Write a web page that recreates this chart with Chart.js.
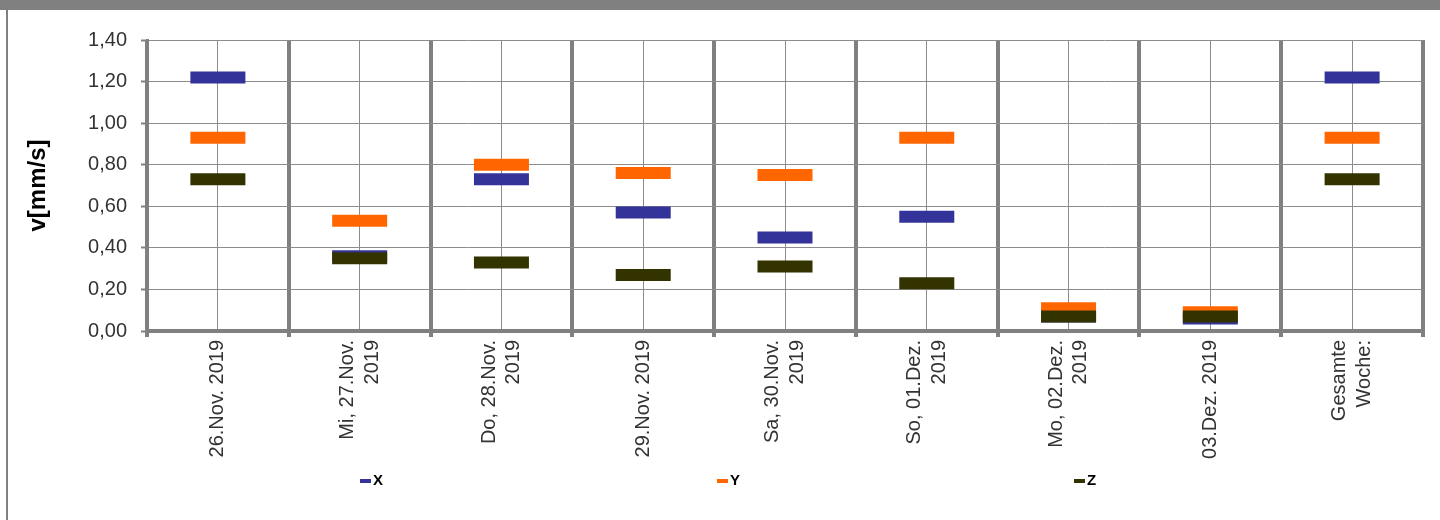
<!DOCTYPE html>
<html>
<head>
<meta charset="utf-8">
<title>v[mm/s]</title>
<script src="https://cdn.jsdelivr.net/npm/chart.js@4.4.1/dist/chart.umd.min.js"></script>
<style>
  html, body { margin: 0; padding: 0; background: #fff; }
  #chart { display: block; }
</style>
</head>
<body>
<canvas id="chart" width="1440" height="520"></canvas>
<script>
// categories (multi line labels as arrays)
const categories = [
  ['26.Nov. 2019'],
  ['Mi, 27.Nov.', '2019'],
  ['Do, 28.Nov.', '2019'],
  ['29.Nov. 2019'],
  ['Sa, 30.Nov.', '2019'],
  ['So, 01.Dez.', '2019'],
  ['Mo, 02.Dez.', '2019'],
  ['03.Dez. 2019'],
  ['Gesamte', 'Woche:']
];

const xValues = [1.22, 0.36, 0.73, 0.57, 0.45, 0.55, 0.07, 0.06, 1.22];
const yValues = [0.93, 0.53, 0.80, 0.76, 0.75, 0.93, 0.11, 0.09, 0.93];
const zValues = [0.73, 0.35, 0.33, 0.27, 0.31, 0.23, 0.07, 0.07, 0.73];

const yTickLabels = ['0,00', '0,20', '0,40', '0,60', '0,80', '1,00', '1,20', '1,40'];

const seriesNames = ['X', 'Y', 'Z'];
const seriesColors = ['#333399', '#FF6600', '#333300'];

const FONT = '"Liberation Sans", Arial, sans-serif';
const GRAY = '#808080';

function dash(label, values, color, order) {
  return {
    label: label,
    data: values,
    showLine: false,
    order: order,
    pointStyle: 'line',
    pointRadius: 27.5,
    pointHoverRadius: 27.5,
    pointBorderWidth: 12,
    pointHoverBorderWidth: 12,
    pointBorderColor: color,
    pointBackgroundColor: color,
    borderColor: color,
    backgroundColor: color
  };
}

// no extra side padding from the rotated labels
function fixX(h) {
  return function(s) {
    s.height = h;
    s.paddingLeft = 0;
    s.paddingRight = 0;
  };
}

// white background + grey frame strips
const framePlugin = {
  id: 'frame',
  beforeDraw(chart) {
    const ctx = chart.ctx;
    ctx.save();
    ctx.fillStyle = '#fff';
    ctx.fillRect(0, 0, chart.width, chart.height);
    ctx.fillStyle = GRAY;
    ctx.fillRect(0, 0, chart.width, 10);
    ctx.fillRect(6, 10, 2, chart.height - 10);
    ctx.restore();
  }
};

// legend spread over the width like the original
const spreadLegend = {
  id: 'spreadLegend',
  afterDraw(chart) {
    const ctx = chart.ctx;
    ctx.save();
    ctx.font = 'bold 15px "Liberation Sans Narrow", "Liberation Sans", Arial, sans-serif';
    ctx.textBaseline = 'middle';
    ctx.textAlign = 'left';
    chart.data.datasets.forEach(function(ds, i) {
      const x = 360 + i * 357;
      const y = 481;
      ctx.fillStyle = ds.borderColor;
      ctx.fillRect(x, y - 2, 11, 4);
      ctx.fillStyle = '#000';
      ctx.fillText(ds.label, x + 13, y);
    });
    ctx.restore();
  }
};

const ctx = document.getElementById('chart').getContext('2d');

const chart = new Chart(ctx, {
  type: 'line',
  data: {
    labels: categories,
    datasets: [
      dash(seriesNames[0], xValues, seriesColors[0], 3),
      dash(seriesNames[1], yValues, seriesColors[1], 2),
      dash(seriesNames[2], zValues, seriesColors[2], 1)
    ]
  },
  options: {
    responsive: false,
    animation: false,
    layout: { autoPadding: false, padding: { left: 0, top: 40, right: 17, bottom: 0 } },
    plugins: {
      legend: { display: false },
      tooltip: { enabled: false }
    },
    scales: {
      // thick separators between the days
      xsep: {
        type: 'category',
        position: 'bottom',
        weight: 0,
        offset: true,
        afterFit: fixX(0),
        grid: {
          offset: true,
          color: GRAY,
          lineWidth: 4,
          drawTicks: true,
          tickLength: 6,
          tickWidth: 4,
          tickColor: GRAY
        },
        border: { display: true, color: GRAY, width: 4 },
        ticks: { display: false }
      },
      x: {
        type: 'category',
        position: 'bottom',
        weight: 1,
        offset: true,
        afterFit: fixX(189),
        grid: {
          offset: false,
          color: '#8c8c8c',
          lineWidth: 1,
          drawTicks: false
        },
        border: { display: false },
        ticks: {
          autoSkip: false,
          minRotation: 90,
          maxRotation: 90,
          padding: 9,
          labelOffset: -12.4,
          color: '#333',
          font: { family: FONT, size: 20, lineHeight: 0.62 },
          callback: function(value, index) {
            const l = categories[index];
            return l.length === 1 ? ['', l[0]] : [l[0], '', l[1]];
          }
        }
      },
      y: {
        min: 0,
        max: 1.4,
        afterFit: function(s) { s.width = 147; },
        grid: {
          color: '#8c8c8c',
          lineWidth: 1,
          tickLength: 6,
          tickWidth: 2,
          tickColor: GRAY
        },
        border: { display: true, color: GRAY, width: 3 },
        ticks: {
          stepSize: 0.2,
          padding: 14,
          color: '#333',
          font: { family: FONT, size: 20 },
          callback: function(value, index) { return yTickLabels[index]; }
        },
        title: {
          display: true,
          text: 'v[mm/s]',
          color: '#000',
          padding: { top: 24, bottom: 0 },
          font: { family: FONT, size: 24, weight: 'bold' }
        }
      }
    }
  },
  plugins: [framePlugin, spreadLegend]
});
</script>
</body>
</html>
